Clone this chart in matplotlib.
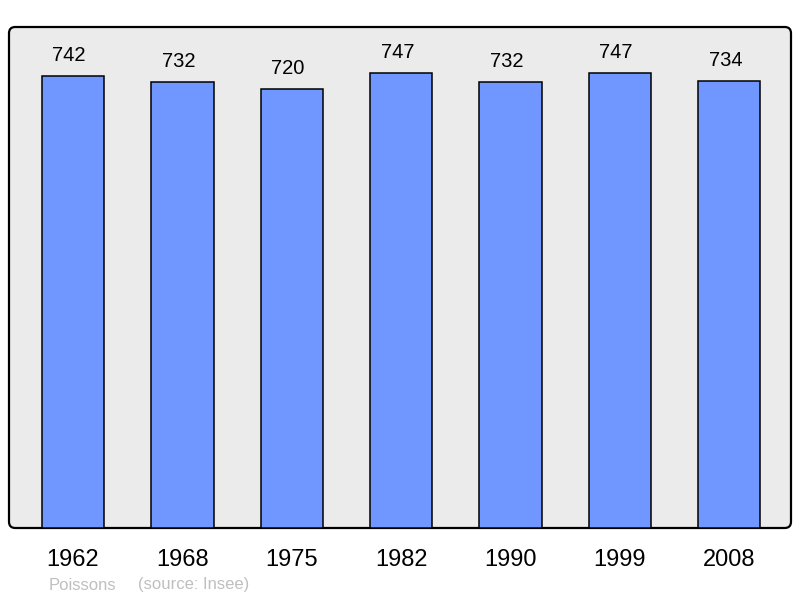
import matplotlib
matplotlib.use('Agg')
import matplotlib.pyplot as plt
from matplotlib.patches import FancyBboxPatch

years = ['1962', '1968', '1975', '1982', '1990', '1999', '2008']
population = [742, 732, 720, 747, 732, 747, 734]
footer_name = 'Poissons'
footer_source = '(source: Insee)'

plt.rcParams['font.family'] = ['Liberation Sans', 'DejaVu Sans']

fig = plt.figure(figsize=(8, 5.98), dpi=100)
ax = fig.add_axes([9 / 800, 70 / 598, 782 / 800, 501 / 598])
ax.set_xlim(-0.585, 6.565)
ax.set_ylim(0, 822)
ax.axis('off')

# gray panel with rounded corners
panel = FancyBboxPatch((0, 0), 1, 1, boxstyle='round,pad=0,rounding_size=0.008',
                       mutation_aspect=782 / 501, transform=ax.transAxes,
                       facecolor='#ebebeb', edgecolor='black', linewidth=1.6,
                       zorder=0, clip_on=False)
ax.add_patch(panel)

x = range(len(years))
ax.bar(x, population, width=0.57, color='#7096ff', edgecolor='black',
       linewidth=1.1, zorder=2)

for i, v in enumerate(population):
    # value labels sit a little left of the bar centre in the original
    ax.text(i - 0.035, v + 18, str(v), ha='center', va='bottom', fontsize=14.5)
    ax.text(i, -52, years[i], ha='center', va='center', fontsize=17,
            clip_on=False)

fig.text(49 / 800, 1 - 585 / 598, footer_name, color='#bfbfbf',
         fontsize=12, va='center')
fig.text(138 / 800, 1 - 585 / 598, footer_source, color='#bfbfbf',
         fontsize=12, va='center')

fig.savefig('out.png', dpi=100)
